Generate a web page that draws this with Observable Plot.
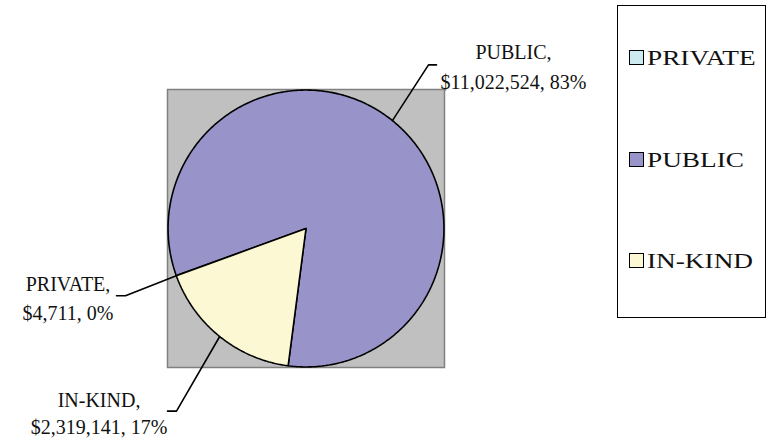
<!DOCTYPE html>
<html>
<head>
<meta charset="utf-8">
<script src="https://cdn.jsdelivr.net/npm/d3@7"></script>
<script src="https://cdn.jsdelivr.net/npm/@observablehq/plot@0.6"></script>
<style>
  html, body { margin: 0; padding: 0; background: #ffffff; }
  #wrap { position: relative; width: 772px; height: 439px; font-family: "Liberation Serif", "DejaVu Serif", serif; }
  #legend {
    position: absolute; left: 617px; top: 5px; width: 147px; height: 311px;
    border: 1.5px solid #000; background: #fff; box-sizing: content-box;
  }
  .item { position: absolute; left: 11px; display: flex; align-items: center; font-size: 22px; color: #111; white-space: nowrap; }
  .sw { width: 13px; height: 13px; border: 1.6px solid #000; margin-right: 3px; flex: none; }
  .lt { display: inline-block; transform: scaleX(1.24); transform-origin: left center; }
</style>
</head>
<body>
<div id="wrap"></div>
<script>
// ---- data ----
const categories = ["PRIVATE", "PUBLIC", "IN-KIND"];
const amounts = [4711, 11022524, 2319141];
const percents = [0, 83, 17];
const colors = ["#cdeaf0", "#9894c9", "#fbf8d3"];

// ---- layout ----
const W = 772, H = 439;
const plotLeft = 167, plotRight = 444, plotTop = 89, plotBottom = 367;
const cx = (plotLeft + plotRight) / 2, cy = (plotTop + plotBottom) / 2, half = (plotRight - plotLeft) / 2;
const X = px => (px - cx) / half;
const Y = py => (cy - py) / half;
const R = 0.996;
const startDeg = 250;

// label layout (pixel positions): text center x, line mid y's, leader elbow, leader end
const labelLayout = {
  "PUBLIC":  {tx: 513, ty1: 52.5, ty2: 82.5, elbow: [428, 65], end: [436, 65]},
  "PRIVATE": {tx: 67.5, ty1: 284, ty2: 313, elbow: [125, 295], end: [116, 295]},
  "IN-KIND": {tx: 98.5, ty1: 399, ty2: 426.5, elbow: [176, 410], end: [167, 410]}
};
const legendTops = [58, 160, 261];

// ---- build slices via d3.pie ----
const rows = categories.map((c, i) => ({name: c, value: amounts[i], pct: percents[i], color: colors[i]}));
const pie = d3.pie().sort(null).value(d => d.value)
  .startAngle(startDeg * Math.PI / 180).endAngle(startDeg * Math.PI / 180 + 2 * Math.PI);
const arcs = pie(rows);

const marks = [Plot.frame({fill: "#c0c0c0", stroke: "#808080", strokeWidth: 1.5})];

for (const a of arcs) {
  const n = Math.max(2, Math.ceil((a.endAngle - a.startAngle) / (Math.PI / 360)));
  const pts = [[0, 0]];
  for (let k = 0; k <= n; k++) {
    const t = a.startAngle + (a.endAngle - a.startAngle) * k / n;
    pts.push([R * Math.sin(t), R * Math.cos(t)]);
  }
  pts.push([0, 0]);
  marks.push(Plot.line(pts, {x: d => d[0], y: d => d[1], fill: a.data.color, stroke: "#000", strokeWidth: 1.6, strokeLinejoin: "miter", curve: "linear"}));
}

// leader lines and labels
const fmt = d3.format(",");
for (const a of arcs) {
  const L = labelLayout[a.data.name];
  const mid = (a.startAngle + a.endAngle) / 2;
  const pts = [[R * Math.sin(mid), R * Math.cos(mid)], [X(L.elbow[0]), Y(L.elbow[1])], [X(L.end[0]), Y(L.end[1])]];
  marks.push(Plot.line(pts, {x: d => d[0], y: d => d[1], stroke: "#000", strokeWidth: 1.6, curve: "linear"}));
  const lines = [
    {x: X(L.tx), y: Y(L.ty1), t: `${a.data.name},`},
    {x: X(L.tx), y: Y(L.ty2), t: `$${fmt(a.data.value)}, ${a.data.pct}%`}
  ];
  marks.push(Plot.text(lines, {x: "x", y: "y", text: "t", textAnchor: "middle", lineAnchor: "middle", fontSize: 20, fill: "#111", fontFamily: "Liberation Serif"}));
}

const chart = Plot.plot({
  width: W, height: H,
  marginLeft: plotLeft, marginRight: W - plotRight, marginTop: plotTop, marginBottom: H - plotBottom,
  x: {domain: [-1, 1], axis: null},
  y: {domain: [-1, 1], axis: null},
  style: {background: "transparent", fontFamily: "Liberation Serif", overflow: "visible"},
  marks
});
const wrap = document.getElementById("wrap");
wrap.appendChild(chart);

// legend
const leg = document.createElement("div");
leg.id = "legend";
categories.forEach((c, i) => {
  const it = document.createElement("div");
  it.className = "item";
  it.style.top = (legendTops[i] - 5 - 1.5 - 14) + "px";
  it.style.height = "28px";
  const sw = document.createElement("div");
  sw.className = "sw";
  sw.style.background = colors[i];
  it.appendChild(sw);
  const tx = document.createElement("span");
  tx.className = "lt";
  tx.textContent = c;
  it.appendChild(tx);
  leg.appendChild(it);
});
wrap.appendChild(leg);
</script>
</body>
</html>
